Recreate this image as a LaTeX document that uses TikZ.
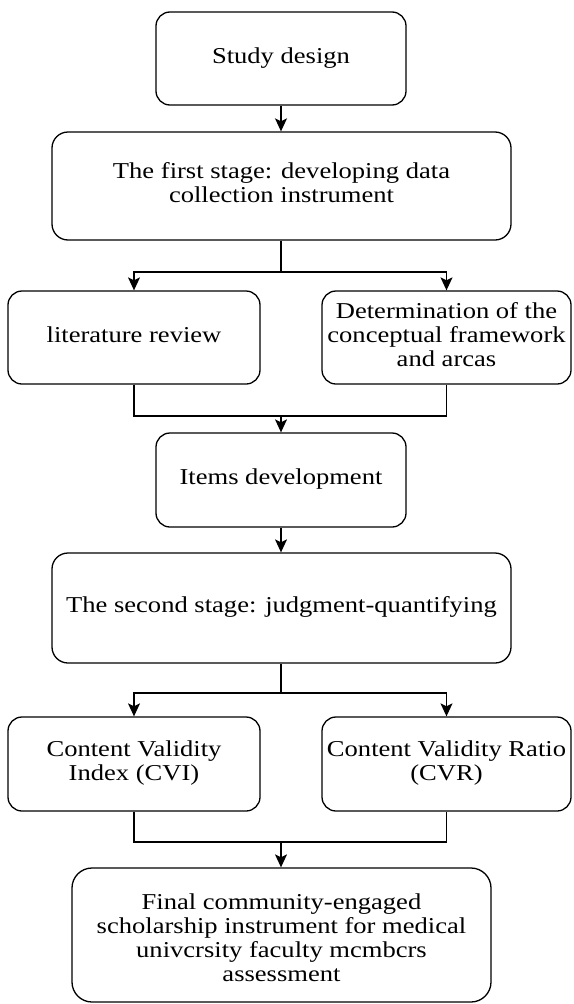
\documentclass[tikz,border=0pt]{standalone}
\usepackage{fontspec}
\setmainfont{Liberation Serif}
\usepackage{graphicx}
\usetikzlibrary{arrows.meta}
\newcommand{\boxlabel}[1]{\scalebox{1.17}[1]{\begin{tabular}{@{}c@{}}#1\end{tabular}}}
\begin{document}
\begin{tikzpicture}[x=1pt,y=-1pt,
  flowbox/.style={draw, line width=1.3pt, rectangle, inner sep=0pt,
    font=\fontsize{22.7}{24}\selectfont},
  link/.style={line width=1.3pt},
  arrowlink/.style={line width=1.3pt, -{Stealth[length=13pt,width=12pt,inset=3pt]}}]
\useasboundingbox (0,0) rectangle (573,1004);
\node[flowbox, rounded corners=14pt, minimum width=250pt, minimum height=93pt] (study) at (281,58.5) {\boxlabel{Study design}};
\node[flowbox, rounded corners=16pt, minimum width=459pt, minimum height=108pt] (first) at (281.5,186) {\boxlabel{The first stage: developing data\\collection instrument}};
\node[flowbox, rounded corners=14pt, minimum width=252pt, minimum height=93pt] (lit) at (134,337.5) {\boxlabel{literature review}};
\node[flowbox, rounded corners=14pt, minimum width=249pt, minimum height=93pt] (det) at (446.5,337.5) {\boxlabel{Determination of the\\conceptual framework\\and arcas}};
\node[flowbox, rounded corners=14pt, minimum width=250pt, minimum height=94pt] (items) at (281,480) {\boxlabel{Items development}};
\node[flowbox, rounded corners=16pt, minimum width=459pt, minimum height=110pt] (second) at (281.5,608) {\boxlabel{The second stage: judgment-quantifying}};
\node[flowbox, rounded corners=14pt, minimum width=252pt, minimum height=94pt] (cvi) at (134,764) {\boxlabel{Content Validity\\Index (CVI)}};
\node[flowbox, rounded corners=14pt, minimum width=249pt, minimum height=94pt] (cvr) at (446.5,764) {\boxlabel{Content Validity Ratio\\(CVR)}};
\node[flowbox, rounded corners=20pt, minimum width=419pt, minimum height=134pt] (final) at (281.5,935) {};
\node[font=\fontsize{22.7}{24}\selectfont, inner sep=0pt] (finaltext) at (281.5,941) {\boxlabel{Final community-engaged\\scholarship instrument for medical\\univcrsity faculty mcmbcrs\\assessment}};

\draw[arrowlink] (study.south) -- (study.south |- first.north);
\coordinate (s1) at (281,272);
\draw[link] (s1 |- first.south) -- (s1);
\draw[arrowlink] (s1) -| (lit.north);
\draw[arrowlink] (s1) -| (det.north);
\coordinate (m1) at (281,416);
\draw[link] (lit.south) |- (m1) -| (det.south);
\draw[arrowlink] (m1) -- (m1 |- items.north);
\draw[arrowlink] (items.south) -- (items.south |- second.north);
\coordinate (s2) at (281,693);
\draw[link] (s2 |- second.south) -- (s2);
\draw[arrowlink] (s2) -| (cvi.north);
\draw[arrowlink] (s2) -| (cvr.north);
\coordinate (m2) at (281,842);
\draw[link] (cvi.south) |- (m2) -| (cvr.south);
\draw[arrowlink] (m2) -- (m2 |- final.north);
\end{tikzpicture}
\end{document}
